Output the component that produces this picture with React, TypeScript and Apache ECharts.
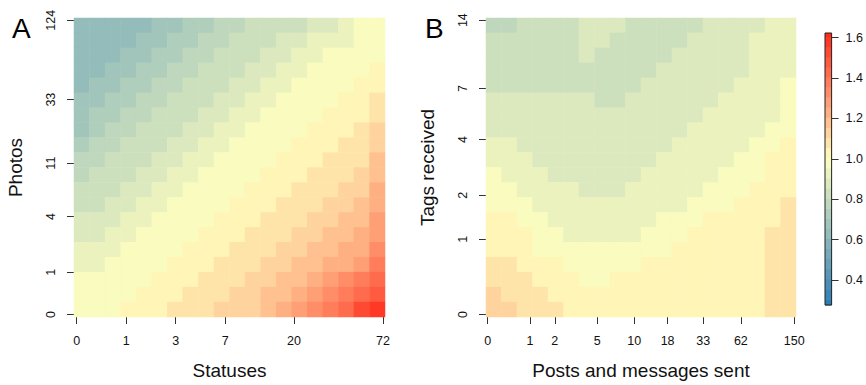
import React, { useEffect, useRef } from 'react';
import * as echarts from 'echarts';

// ---- tick labels (original units; axes are drawn on log(1 + x)) ----
const statusTicks = [0, 1, 3, 7, 20, 72];
const photoTicks = [0, 1, 4, 11, 33, 124];
const postTicks = [0, 1, 2, 5, 10, 18, 33, 62, 150];
const tagTicks = [0, 1, 2, 4, 7, 14];
const colorbarTicks = [0.4, 0.6, 0.8, 1.0, 1.2, 1.4, 1.6];

// colour scale range and band quantisation
const colorMin = 0.276;
const colorMax = 1.623;
const bandStart = 0.255;
const bandWidth = 0.05;
const bandCount = 28;

// ---- Panel A: Statuses (x) vs Photos (y); rows listed top (most photos) -> bottom ----
const panelA: number[][] = [
  [0.62, 0.62, 0.625, 0.63, 0.645, 0.67, 0.70, 0.72, 0.75, 0.77, 0.79, 0.81, 0.82, 0.835, 0.85, 0.87, 0.90, 0.935, 0.96, 0.98],
  [0.62, 0.63, 0.64, 0.65, 0.67, 0.69, 0.72, 0.745, 0.77, 0.79, 0.81, 0.83, 0.84, 0.86, 0.88, 0.91, 0.935, 0.95, 0.97, 0.99],
  [0.63, 0.64, 0.65, 0.67, 0.69, 0.72, 0.745, 0.77, 0.79, 0.81, 0.83, 0.85, 0.875, 0.90, 0.93, 0.95, 0.965, 0.98, 0.99, 1.00],
  [0.64, 0.65, 0.67, 0.69, 0.72, 0.745, 0.77, 0.79, 0.81, 0.83, 0.85, 0.875, 0.90, 0.93, 0.95, 0.965, 0.98, 0.99, 1.00, 1.02],
  [0.65, 0.67, 0.69, 0.72, 0.745, 0.77, 0.79, 0.81, 0.83, 0.85, 0.875, 0.90, 0.93, 0.95, 0.965, 0.98, 0.99, 1.00, 1.01, 1.05],
  [0.665, 0.69, 0.72, 0.745, 0.77, 0.79, 0.81, 0.83, 0.85, 0.875, 0.90, 0.93, 0.95, 0.965, 0.98, 0.99, 1.00, 1.01, 1.025, 1.07],
  [0.685, 0.72, 0.745, 0.77, 0.79, 0.81, 0.83, 0.85, 0.875, 0.90, 0.93, 0.95, 0.965, 0.98, 0.99, 1.00, 1.01, 1.025, 1.045, 1.10],
  [0.70, 0.745, 0.77, 0.79, 0.81, 0.83, 0.85, 0.875, 0.90, 0.93, 0.95, 0.965, 0.98, 0.99, 1.00, 1.01, 1.025, 1.045, 1.065, 1.12],
  [0.73, 0.77, 0.79, 0.81, 0.83, 0.85, 0.875, 0.90, 0.93, 0.95, 0.965, 0.98, 0.99, 1.00, 1.01, 1.025, 1.045, 1.065, 1.085, 1.15],
  [0.76, 0.79, 0.81, 0.83, 0.85, 0.875, 0.90, 0.93, 0.95, 0.965, 0.98, 0.99, 1.00, 1.01, 1.025, 1.045, 1.065, 1.085, 1.10, 1.17],
  [0.78, 0.81, 0.83, 0.85, 0.875, 0.90, 0.93, 0.95, 0.965, 0.98, 0.99, 1.00, 1.01, 1.025, 1.045, 1.065, 1.085, 1.10, 1.12, 1.195],
  [0.81, 0.83, 0.85, 0.875, 0.90, 0.93, 0.95, 0.965, 0.98, 0.99, 1.00, 1.01, 1.025, 1.045, 1.065, 1.085, 1.10, 1.12, 1.14, 1.22],
  [0.83, 0.85, 0.875, 0.90, 0.93, 0.95, 0.965, 0.98, 0.99, 1.00, 1.01, 1.025, 1.045, 1.065, 1.085, 1.10, 1.12, 1.14, 1.165, 1.24],
  [0.86, 0.875, 0.90, 0.93, 0.95, 0.965, 0.98, 0.99, 1.00, 1.01, 1.025, 1.045, 1.065, 1.085, 1.10, 1.12, 1.14, 1.165, 1.19, 1.26],
  [0.89, 0.90, 0.93, 0.95, 0.965, 0.98, 0.99, 1.00, 1.01, 1.025, 1.045, 1.065, 1.085, 1.10, 1.12, 1.14, 1.165, 1.19, 1.22, 1.295],
  [0.915, 0.93, 0.95, 0.965, 0.98, 0.99, 1.00, 1.01, 1.025, 1.045, 1.065, 1.085, 1.10, 1.12, 1.14, 1.165, 1.19, 1.22, 1.25, 1.34],
  [0.945, 0.95, 0.965, 0.98, 0.99, 1.00, 1.01, 1.025, 1.045, 1.065, 1.085, 1.10, 1.12, 1.14, 1.165, 1.19, 1.22, 1.25, 1.29, 1.38],
  [0.965, 0.97, 0.98, 0.99, 1.00, 1.01, 1.025, 1.045, 1.065, 1.085, 1.10, 1.12, 1.14, 1.165, 1.19, 1.22, 1.26, 1.31, 1.37, 1.43],
  [0.985, 0.985, 0.99, 1.00, 1.01, 1.025, 1.045, 1.065, 1.085, 1.10, 1.12, 1.14, 1.165, 1.19, 1.23, 1.27, 1.33, 1.39, 1.45, 1.50],
  [0.98, 0.99, 1.00, 1.01, 1.03, 1.045, 1.06, 1.08, 1.10, 1.115, 1.13, 1.15, 1.18, 1.21, 1.26, 1.31, 1.40, 1.45, 1.51, 1.58],
];

// ---- Panel B: Posts and messages sent (x) vs Tags received (y); rows top -> bottom ----
const panelB: number[][] = [
  [0.78, 0.79, 0.82, 0.83, 0.83, 0.83, 0.87, 0.88, 0.87, 0.84, 0.83, 0.83, 0.83, 0.84, 0.87, 0.88, 0.88, 0.89, 0.92, 0.93],
  [0.81, 0.82, 0.83, 0.83, 0.83, 0.83, 0.87, 0.87, 0.84, 0.83, 0.83, 0.83, 0.83, 0.86, 0.88, 0.88, 0.89, 0.91, 0.93, 0.93],
  [0.82, 0.83, 0.83, 0.83, 0.83, 0.83, 0.86, 0.85, 0.83, 0.83, 0.83, 0.84, 0.86, 0.88, 0.88, 0.88, 0.89, 0.92, 0.93, 0.94],
  [0.83, 0.83, 0.83, 0.83, 0.83, 0.83, 0.83, 0.83, 0.83, 0.83, 0.84, 0.86, 0.88, 0.88, 0.88, 0.88, 0.87, 0.91, 0.93, 0.94],
  [0.84, 0.84, 0.84, 0.84, 0.84, 0.83, 0.83, 0.83, 0.83, 0.84, 0.86, 0.88, 0.88, 0.88, 0.88, 0.88, 0.91, 0.93, 0.94, 0.96],
  [0.86, 0.87, 0.87, 0.87, 0.86, 0.86, 0.86, 0.84, 0.84, 0.86, 0.88, 0.88, 0.88, 0.88, 0.89, 0.91, 0.93, 0.93, 0.94, 0.96],
  [0.87, 0.88, 0.88, 0.88, 0.88, 0.88, 0.88, 0.87, 0.87, 0.88, 0.88, 0.88, 0.88, 0.89, 0.91, 0.93, 0.93, 0.94, 0.95, 0.97],
  [0.86, 0.88, 0.88, 0.88, 0.88, 0.88, 0.88, 0.88, 0.88, 0.88, 0.88, 0.88, 0.89, 0.91, 0.93, 0.93, 0.94, 0.94, 0.96, 0.99],
  [0.91, 0.91, 0.89, 0.88, 0.88, 0.88, 0.88, 0.88, 0.88, 0.88, 0.89, 0.90, 0.91, 0.93, 0.93, 0.94, 0.95, 0.96, 0.98, 1.01],
  [0.93, 0.93, 0.91, 0.89, 0.88, 0.88, 0.88, 0.88, 0.88, 0.89, 0.90, 0.91, 0.93, 0.93, 0.94, 0.95, 0.96, 0.98, 1.01, 1.03],
  [0.96, 0.94, 0.93, 0.92, 0.90, 0.89, 0.88, 0.88, 0.89, 0.90, 0.91, 0.93, 0.93, 0.94, 0.95, 0.96, 0.97, 0.99, 1.02, 1.04],
  [0.97, 0.96, 0.95, 0.94, 0.93, 0.92, 0.90, 0.89, 0.90, 0.91, 0.93, 0.93, 0.94, 0.95, 0.96, 0.98, 0.99, 1.01, 1.03, 1.04],
  [0.98, 0.98, 0.96, 0.95, 0.94, 0.93, 0.92, 0.92, 0.92, 0.93, 0.93, 0.94, 0.95, 0.96, 0.97, 0.99, 1.01, 1.03, 1.04, 1.06],
  [1.01, 1.01, 0.99, 0.97, 0.95, 0.94, 0.93, 0.93, 0.93, 0.94, 0.95, 0.96, 0.97, 0.98, 1.01, 1.02, 1.03, 1.04, 1.05, 1.07],
  [1.03, 1.02, 1.01, 0.99, 0.97, 0.95, 0.94, 0.94, 0.94, 0.95, 0.96, 0.97, 0.99, 1.01, 1.02, 1.03, 1.04, 1.05, 1.06, 1.08],
  [1.04, 1.03, 1.02, 1.00, 0.99, 0.98, 0.97, 0.96, 0.96, 0.97, 0.98, 1.00, 1.01, 1.02, 1.03, 1.04, 1.04, 1.05, 1.07, 1.08],
  [1.06, 1.06, 1.04, 1.02, 1.01, 1.00, 0.99, 0.98, 0.99, 1.00, 1.01, 1.02, 1.03, 1.03, 1.03, 1.04, 1.04, 1.05, 1.07, 1.08],
  [1.08, 1.07, 1.06, 1.05, 1.03, 1.02, 1.00, 1.00, 1.01, 1.02, 1.03, 1.03, 1.03, 1.03, 1.03, 1.04, 1.04, 1.05, 1.07, 1.08],
  [1.13, 1.10, 1.08, 1.06, 1.05, 1.04, 1.03, 1.03, 1.03, 1.03, 1.03, 1.03, 1.03, 1.03, 1.03, 1.04, 1.04, 1.05, 1.07, 1.08],
  [1.14, 1.12, 1.09, 1.07, 1.06, 1.05, 1.04, 1.03, 1.03, 1.03, 1.03, 1.03, 1.03, 1.03, 1.03, 1.04, 1.04, 1.05, 1.07, 1.08],
];

// axis extents on the log(1 + x) scale (image cells overhang the outer ticks by half a cell)
const extentA = { x: [-0.038, 4.32], y: [-0.039, 4.866] };
const extentB = { x: [-0.028, 5.046], y: [-0.022, 2.728] };

const FONT = '"Liberation Sans", Arial, Helvetica, sans-serif';
const BLUE = [44, 123, 182];
const YELLOW = [255, 255, 191];
const RED = [255, 42, 26];

function mix(a: number[], b: number[], t: number) {
  const c = a.map((v, i) => Math.round(v + (b[i] - v) * t));
  return `rgb(${c[0]},${c[1]},${c[2]})`;
}
function ramp(v: number) {
  const x = Math.min(Math.max(v, colorMin), colorMax);
  if (x <= 1) return mix(YELLOW, BLUE, (1 - x) / (1 - colorMin));
  return mix(YELLOW, RED, (x - 1) / (colorMax - 1));
}

const pieces = Array.from({ length: bandCount }, (_, k) => {
  const lo = bandStart + k * bandWidth;
  return { gte: lo, lt: lo + bandWidth, color: ramp(lo + bandWidth / 2) };
});

const colorbarData = pieces
  .filter((p) => p.lt > colorMin && p.gte < colorMax)
  .map((p) => [Math.max(p.gte, colorMin), Math.min(p.lt, colorMax), (p.gte + p.lt) / 2]);

function toCells(rows: number[][]) {
  const n = rows.length;
  const out: number[][] = [];
  rows.forEach((row, r) => row.forEach((v, c) => out.push([c, n - 1 - r, v])));
  return out;
}

const idx = (n: number) => Array.from({ length: n }, (_, i) => i);
const lg = (v: number) => Math.log1p(v);
const fmtCount = (v: number) => String(Math.round(Math.expm1(v)));

function valueAxis(grid: number, dim: 'x' | 'y', ext: number[], ticks: number[], name: string, nameGap: number) {
  const tv = ticks.map(lg);
  return {
    type: 'value',
    gridIndex: grid,
    position: dim === 'x' ? 'bottom' : 'left',
    min: ext[0],
    max: ext[1],
    axisLine: { show: false, onZero: false },
    splitLine: { show: false },
    axisTick: { show: true, customValues: tv, length: 7, lineStyle: { color: '#333', width: 1 } },
    axisLabel: {
      customValues: tv,
      formatter: fmtCount,
      margin: dim === 'x' ? 17 : 17,
      rotate: dim === 'y' ? 90 : 0,
      fontSize: 12.5,
      color: '#111',
      fontFamily: FONT,
    },
    name,
    nameLocation: 'middle',
    nameGap,
    nameTextStyle: { fontSize: 19, color: '#111', fontFamily: FONT },
  };
}

function buildOption() {
  return {
    animation: false,
    backgroundColor: '#fff',
    textStyle: { fontFamily: FONT, color: '#111' },
    grid: [
      { left: 74, top: 18, width: 311, height: 303 },
      { left: 486, top: 18, width: 310, height: 303 },
      { left: 825, top: 33, width: 7, height: 272, show: true, borderColor: '#222', borderWidth: 1, backgroundColor: 'transparent', z: 10 },
    ],
    xAxis: [
      { type: 'category', gridIndex: 0, data: idx(panelA[0].length), show: false },
      valueAxis(0, 'x', extentA.x, statusTicks, 'Statuses', 44),
      { type: 'category', gridIndex: 1, data: idx(panelB[0].length), show: false },
      valueAxis(1, 'x', extentB.x, postTicks, 'Posts and messages sent', 44),
      { type: 'value', gridIndex: 2, min: 0, max: 1, show: false },
    ],
    yAxis: [
      { type: 'category', gridIndex: 0, data: idx(panelA.length), show: false },
      valueAxis(0, 'y', extentA.y, photoTicks, 'Photos', 49),
      { type: 'category', gridIndex: 1, data: idx(panelB.length), show: false },
      valueAxis(1, 'y', extentB.y, tagTicks, 'Tags received', 49),
      {
        type: 'value',
        gridIndex: 2,
        position: 'right',
        min: colorMin,
        max: colorMax,
        axisLine: { show: false, onZero: false },
        splitLine: { show: false },
        axisTick: { show: true, customValues: colorbarTicks, length: 7, lineStyle: { color: '#333' } },
        axisLabel: { customValues: colorbarTicks, formatter: (v: number) => v.toFixed(1), margin: 14, fontSize: 12.5, color: '#111' },
      },
    ],
    visualMap: {
      type: 'piecewise',
      show: false,
      dimension: 2,
      seriesIndex: [0, 1, 2],
      pieces,
    },
    graphic: [
      { type: 'text', left: 12, top: 14, style: { text: 'A', fontSize: 28, fontFamily: FONT, fill: '#000' } },
      { type: 'text', left: 425, top: 14, style: { text: 'B', fontSize: 28, fontFamily: FONT, fill: '#000' } },
    ],
    series: [
      {
        type: 'heatmap',
        xAxisIndex: 0,
        yAxisIndex: 0,
        data: toCells(panelA),
        emphasis: { disabled: true },
        progressive: 0,
      },
      {
        type: 'heatmap',
        xAxisIndex: 2,
        yAxisIndex: 2,
        data: toCells(panelB),
        emphasis: { disabled: true },
        progressive: 0,
      },
      {
        type: 'custom',
        xAxisIndex: 4,
        yAxisIndex: 4,
        data: colorbarData,
        encode: { x: -1, y: [0, 1] },
        renderItem: (_params: any, api: any) => {
          const p0 = api.coord([0, api.value(0)]);
          const p1 = api.coord([1, api.value(1)]);
          return {
            type: 'rect',
            shape: { x: p0[0], y: p1[1], width: p1[0] - p0[0], height: p0[1] - p1[1] + 0.5 },
            style: { fill: api.visual('color') },
          };
        },
      },
    ],
  };
}

export default function App() {
  const ref = useRef<HTMLDivElement>(null);
  useEffect(() => {
    if (!ref.current) return;
    const chart = echarts.init(ref.current, null, { renderer: 'svg' });
    chart.setOption(buildOption() as any);
    return () => chart.dispose();
  }, []);
  return (
    <div
      ref={ref}
      style={{ position: 'fixed', left: 0, top: 0, width: 866, height: 385, background: '#fff' }}
    />
  );
}
